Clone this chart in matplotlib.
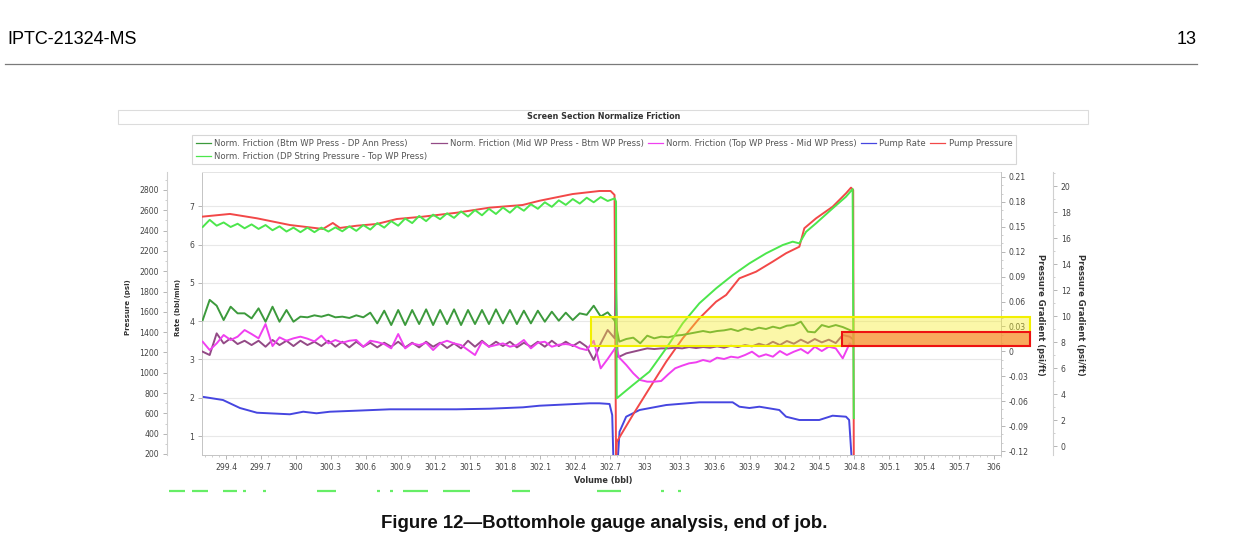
import numpy as np
import matplotlib
matplotlib.use("Agg")
import matplotlib.pyplot as plt
from matplotlib.ticker import FixedLocator, FixedFormatter, AutoMinorLocator
from matplotlib.patches import Rectangle
from matplotlib.lines import Line2D

W, H = 1242, 552


def fx(px):
    return px / W


def fy(py):
    return 1 - py / H


# ---- data ----
# regular volume samples before the first shut-down and between the two
vol_a = np.linspace(299.20, 302.74, 60)
vol_b = np.linspace(302.78, 304.76, 34)

# Norm. Friction (DP String Pressure - Top WP Press), psi/ft (outer right axis)
dp_top_a = [16.85, 17.4, 16.95, 17.2, 16.85, 17.1, 16.75, 17.05, 16.7, 17.0,
            16.6, 16.9, 16.5, 16.8, 16.45, 16.8, 16.45, 16.8, 16.5, 16.82,
            16.52, 16.9, 16.55, 17.0, 16.65, 17.15, 16.8, 17.3, 16.95, 17.5,
            17.15, 17.7, 17.3, 17.8, 17.45, 17.9, 17.55, 18.05, 17.65, 18.15,
            17.75, 18.25, 17.85, 18.35, 17.95, 18.45, 18.1, 18.6, 18.25, 18.75,
            18.4, 18.9, 18.55, 19.0, 18.65, 19.1, 18.75, 19.15, 18.85, 19.05]
dp_top_tail_x = [302.752, 302.758, 302.896, 303.039, 303.183, 303.325, 303.468,
                 303.612, 303.755, 303.898, 304.041, 304.184, 304.270, 304.327,
                 304.385, 304.470, 304.613, 304.728, 304.785, 304.795]
dp_top_tail_y = [18.8, 3.67, 4.69, 5.72, 7.52, 9.44, 10.98, 12.13, 13.15, 14.05,
                 14.82, 15.46, 15.72, 15.59, 16.48, 17.13, 18.28, 19.18, 19.77, 2.15]

# Norm. Friction (Btm WP Press - DP Ann Press), psi/ft
btm_ann_a = [0.0377, 0.062, 0.055, 0.0377, 0.0538, 0.0458, 0.0458, 0.0397, 0.0518, 0.0357,
             0.0538, 0.0357, 0.0498, 0.0357, 0.0418, 0.0410, 0.0434, 0.0418, 0.0442, 0.0410,
             0.0418, 0.0402, 0.0434, 0.0410, 0.0466, 0.0337, 0.0490, 0.0317, 0.0498, 0.0317,
             0.0498, 0.0329, 0.0506, 0.0317, 0.0498, 0.0329, 0.0506, 0.0317, 0.0498, 0.0329,
             0.0498, 0.0329, 0.0506, 0.0337, 0.0498, 0.0329, 0.0490, 0.0337, 0.0490, 0.0357,
             0.0478, 0.0369, 0.0466, 0.0377, 0.0458, 0.044, 0.055, 0.042, 0.047, 0.037]
btm_ann_b = [0.0117, 0.0149, 0.0165, 0.0097, 0.0189, 0.0157, 0.0177, 0.0169, 0.0189, 0.0197,
             0.0213, 0.0229, 0.0245, 0.0229, 0.0245, 0.0253, 0.0269, 0.0245, 0.0277, 0.0257,
             0.0285, 0.0269, 0.0297, 0.0277, 0.0309, 0.0317, 0.0358, 0.0237, 0.0229, 0.0317,
             0.0293, 0.0317, 0.0293, 0.0257]
btm_ann_mid_x, btm_ann_mid_y = [302.752], [0.031]
btm_ann_end_x, btm_ann_end_y = [304.785], [0.024]

# Norm. Friction (Mid WP Press - Btm WP Press), psi/ft
mid_btm_a = [-0.0004, -0.0044, 0.0217, 0.0096, 0.0157, 0.0088, 0.0128, 0.0076, 0.0128, 0.0056,
             0.0137, 0.0076, 0.0128, 0.0064, 0.0128, 0.0076, 0.0116, 0.0064, 0.0128, 0.0056,
             0.0116, 0.0048, 0.0116, 0.0056, 0.0104, 0.0048, 0.0104, 0.0056, 0.0116, 0.0048,
             0.0104, 0.0048, 0.0116, 0.0056, 0.0104, 0.0040, 0.0096, 0.0036, 0.0128, 0.0056,
             0.0128, 0.0056, 0.0116, 0.0064, 0.0116, 0.0048, 0.0104, 0.0056, 0.0116, 0.0056,
             0.0128, 0.0064, 0.0116, 0.0064, 0.0116, 0.0056, -0.0104, 0.0096, 0.0257, 0.0157]
mid_btm_b = [-0.0064, -0.0024, -0.0004, 0.0016, 0.0036, 0.0028, 0.0036, 0.0036, 0.0044, 0.0036,
             0.0052, 0.0040, 0.0052, 0.0044, 0.0060, 0.0044, 0.0068, 0.0052, 0.0076, 0.0060,
             0.0092, 0.0068, 0.0116, 0.0076, 0.0125, 0.0092, 0.0141, 0.0100, 0.0149, 0.0108,
             0.0141, 0.0100, 0.0197, 0.0177]
mid_btm_mid_x, mid_btm_mid_y = [302.752, 302.765], [0.0739, -0.0064]
mid_btm_end_x, mid_btm_end_y = [304.785], [0.015]

# Norm. Friction (Top WP Press - Mid WP Press), psi/ft
top_mid_a = [0.0116, 0.0016, 0.0096, 0.0197, 0.0137, 0.0177, 0.0257, 0.0209, 0.0157, 0.0329,
             0.0064, 0.0169, 0.0128, 0.0157, 0.0177, 0.0153, 0.0120, 0.0189, 0.0096, 0.0137,
             0.0104, 0.0128, 0.0137, 0.0056, 0.0128, 0.0112, 0.0088, 0.0036, 0.0209, 0.0036,
             0.0096, 0.0076, 0.0104, 0.0016, 0.0096, 0.0128, 0.0096, 0.0076, 0.0016, -0.0044,
             0.0116, 0.0056, 0.0076, 0.0096, 0.0056, 0.0076, 0.0137, 0.0036, 0.0104, 0.0116,
             0.0056, 0.0080, 0.0088, 0.0076, 0.0036, 0.0016, 0.0128, -0.0205, -0.0092, 0.0029]
top_mid_b = [-0.0076, -0.0164, -0.0264, -0.0345, -0.0365, -0.0365, -0.0357, -0.0277, -0.0204, -0.0172,
             -0.0144, -0.0132, -0.0104, -0.0124, -0.0076, -0.0092, -0.0064, -0.0076, -0.0044, -0.0004,
             -0.0064, -0.0036, -0.0064, 0.0004, -0.0044, -0.0004, 0.0028, -0.0024, 0.0056, 0.0004,
             0.0056, 0.0036, -0.0084, 0.0096]
top_mid_mid_x, top_mid_mid_y = [302.755], [0.0037]
top_mid_end_x, top_mid_end_y = [304.785], [0.006]

# Pump Rate, bbl/min
rate_x = [299.194, 299.374, 299.520, 299.666, 299.949, 300.064, 300.178, 300.293, 300.522,
          300.808, 301.094, 301.380, 301.666, 301.952, 302.095, 302.524, 302.610, 302.696,
          302.719, 302.730, 302.765, 302.782, 302.839, 302.954, 303.183, 303.468, 303.754,
          303.812, 303.898, 303.984, 304.155, 304.213, 304.327, 304.498, 304.613, 304.728,
          304.755, 304.779]
rate_y = [2.026, 1.94, 1.731, 1.608, 1.567, 1.634, 1.593, 1.634, 1.661,
          1.697, 1.697, 1.697, 1.713, 1.749, 1.791, 1.854, 1.854, 1.836,
          1.548, 0.3, 0.3, 1.112, 1.504, 1.679, 1.809, 1.880, 1.880,
          1.765, 1.731, 1.765, 1.679, 1.504, 1.418, 1.418, 1.530, 1.504,
          1.418, 0.3]

# Pump Pressure, psi
press_x = [299.194, 299.434, 299.666, 299.949, 300.233, 300.318, 300.379, 300.524, 300.696,
           300.868, 301.091, 301.383, 301.666, 301.949, 302.095, 302.379, 302.610, 302.705,
           302.739, 302.752, 302.759, 302.896, 303.039, 303.183, 303.325, 303.468, 303.612,
           303.698, 303.812, 303.955, 304.098, 304.213, 304.327, 304.370, 304.471, 304.613,
           304.728, 304.771, 304.790, 304.795]
press_y = [2537, 2564, 2521, 2455, 2416, 2475, 2426, 2448, 2465,
           2514, 2537, 2576, 2626, 2652, 2694, 2760, 2790, 2790,
           2751, 150, 321, 584, 847, 1109, 1339, 1536, 1700,
           1766, 1930, 1995, 2094, 2177, 2241, 2423, 2521, 2635,
           2767, 2823, 2800, 150]

labels = ["Norm. Friction (Btm WP Press - DP Ann Press)",
          "Norm. Friction (DP String Pressure - Top WP Press)",
          "Norm. Friction (Mid WP Press - Btm WP Press)",
          "Norm. Friction (Top WP Press - Mid WP Press)",
          "Pump Rate", "Pump Pressure"]

x_ticks = [299.4, 299.7, 300.0, 300.3, 300.6, 300.9, 301.2, 301.5, 301.8, 302.1, 302.4, 302.7,
           303.0, 303.3, 303.6, 303.9, 304.2, 304.5, 304.8, 305.1, 305.4, 305.7, 306.0]
x_labels = ["299.4", "299.7", "300", "300.3", "300.6", "300.9", "301.2", "301.5", "301.8",
            "302.1", "302.4", "302.7", "303", "303.3", "303.6", "303.9", "304.2", "304.5",
            "304.8", "305.1", "305.4", "305.7", "306"]
press_ticks = [200, 400, 600, 800, 1000, 1200, 1400, 1600, 1800, 2000, 2200, 2400, 2600, 2800]
rate_ticks = [1, 2, 3, 4, 5, 6, 7]
grad_ticks = [-0.12, -0.09, -0.06, -0.03, 0, 0.03, 0.06, 0.09, 0.12, 0.15, 0.18, 0.21]
grad_labels = ["-0.12", "-0.09", "-0.06", "-0.03", "0", "0.03", "0.06", "0.09", "0.12",
               "0.15", "0.18", "0.21"]
grad2_ticks = [0, 2, 4, 6, 8, 10, 12, 14, 16, 18, 20]

# highlighted bands (volume, gradient psi/ft)
yellow_band = (302.54, 306.31, 0.0065, 0.0414)
red_band = (304.696, 306.31, 0.0065, 0.0233)

# faint green remnants of a clipped text line under the chart (pixel spans)
remnant_spans = [(169, 185), (192, 208), (223, 237), (243, 246), (263, 266), (317, 336),
                 (377, 380), (390, 393), (403, 428), (443, 470), (512, 530), (597, 621),
                 (661, 664), (678, 681)]

# ---- figure ----
fig = plt.figure(figsize=(12.42, 5.52), dpi=100)
ax = fig.add_axes([fx(202), fy(455), (1001 - 202) / W, (455 - 172) / H])
ax_p = ax.twinx()
ax_g1 = ax.twinx()
ax_g2 = ax.twinx()

c_dg, c_lg, c_pu = "#3c9a3c", "#4ce64c", "#934a86"
c_mg, c_bl, c_rd = "#f040f0", "#4646e0", "#f24848"
line_kw = dict(lw=1.4, solid_joinstyle="round")

l_bl, = ax.plot(rate_x, rate_y, color=c_bl, **line_kw)
l_rd, = ax_p.plot(press_x, press_y, color=c_rd, **line_kw)
l_pu, = ax_g1.plot(np.r_[vol_a, mid_btm_mid_x, vol_b, mid_btm_end_x],
                   np.r_[mid_btm_a, mid_btm_mid_y, mid_btm_b, mid_btm_end_y], color=c_pu, **line_kw)
l_mg, = ax_g1.plot(np.r_[vol_a, top_mid_mid_x, vol_b, top_mid_end_x],
                   np.r_[top_mid_a, top_mid_mid_y, top_mid_b, top_mid_end_y], color=c_mg, **line_kw)
l_dg, = ax_g1.plot(np.r_[vol_a, btm_ann_mid_x, vol_b, btm_ann_end_x],
                   np.r_[btm_ann_a, btm_ann_mid_y, btm_ann_b, btm_ann_end_y], color=c_dg, **line_kw)
l_lg, = ax_g2.plot(np.r_[vol_a, dp_top_tail_x], np.r_[dp_top_a, dp_top_tail_y], color=c_lg, **line_kw)

ax.set_xlim(299.194, 306.06)
ax.set_ylim(0.504, 7.893)
ax_p.set_ylim(190, 2977)
ax_g1.set_ylim(-0.1248, 0.216)
ax_g2.set_ylim(-0.69, 21.08)

spine_c = "#c4c4c4"
tick_kw = dict(length=2.6, width=0.6, color="#aaaaaa", labelsize=5.6, labelcolor="#444444", pad=3)

ax.xaxis.set_major_locator(FixedLocator(x_ticks))
ax.xaxis.set_major_formatter(FixedFormatter(x_labels))
ax.xaxis.set_minor_locator(AutoMinorLocator(5))
ax.yaxis.set_major_locator(FixedLocator(rate_ticks))
ax.grid(axis="y", color="#e8e8e8", lw=0.8)
ax.tick_params(which="major", **tick_kw)
ax.tick_params(which="minor", length=1.5, width=0.5, color="#bbbbbb")
for s in ["left", "bottom", "top"]:
    ax.spines[s].set_color(spine_c)
    ax.spines[s].set_linewidth(0.7)
ax.spines["top"].set_color("#e4e4e4")
ax.spines["right"].set_visible(False)

ax_p.yaxis.set_ticks_position("left")
ax_p.yaxis.set_label_position("left")
ax_p.spines["left"].set_position(("outward", 25.2))
ax_p.spines["left"].set_visible(True)
for s in ["right", "top", "bottom"]:
    ax_p.spines[s].set_visible(False)
ax_p.spines["left"].set_color("#d0d0d0")
ax_p.yaxis.set_major_locator(FixedLocator(press_ticks))
ax_p.yaxis.set_minor_locator(AutoMinorLocator(2))
ax_p.tick_params(which="major", **tick_kw)
ax_p.tick_params(which="minor", length=1.5, width=0.5, color="#bbbbbb")

for s in ["left", "top", "bottom"]:
    ax_g1.spines[s].set_visible(False)
ax_g1.spines["right"].set_color(spine_c)
ax_g1.spines["right"].set_linewidth(0.7)
ax_g1.yaxis.set_major_locator(FixedLocator(grad_ticks))
ax_g1.yaxis.set_major_formatter(FixedFormatter(grad_labels))
ax_g1.yaxis.set_minor_locator(AutoMinorLocator(3))
ax_g1.tick_params(which="major", **tick_kw)
ax_g1.tick_params(which="minor", length=1.5, width=0.5, color="#bbbbbb")

for s in ["left", "top", "bottom"]:
    ax_g2.spines[s].set_visible(False)
ax_g2.spines["right"].set_position(("outward", 37.4))
ax_g2.spines["right"].set_color("#d0d0d0")
ax_g2.yaxis.set_major_locator(FixedLocator(grad2_ticks))
ax_g2.yaxis.set_minor_locator(AutoMinorLocator(2))
ax_g2.tick_params(which="major", **tick_kw)
ax_g2.tick_params(which="minor", length=1.5, width=0.5, color="#bbbbbb")

# highlighted bands drawn over the curves
x0, x1, y0, y1 = yellow_band
ax_g2.add_patch(Rectangle((x0, y0), x1 - x0, y1 - y0, transform=ax_g1.transData,
                          facecolor=(0.96, 0.93, 0.15, 0.4), edgecolor="#f2f000",
                          lw=1.5, clip_on=False, zorder=5))
x0, x1, y0, y1 = red_band
ax_g2.add_patch(Rectangle((x0, y0), x1 - x0, y1 - y0, transform=ax_g1.transData,
                          facecolor=(0.97, 0.55, 0.25, 0.72), edgecolor="#ee1111",
                          lw=1.5, clip_on=False, zorder=6))

# axis titles
lab_kw = dict(ha="center", va="center", fontweight="bold", color="#333333")
fig.text(fx(128), fy(307), "Pressure (psi)", rotation=90, fontsize=5.0, **lab_kw)
fig.text(fx(178), fy(307), "Rate (bbl/min)", rotation=90, fontsize=5.0, **lab_kw)
fig.text(fx(1040), fy(315), "Pressure Gradient (psi/ft)", rotation=270, fontsize=6.0, **lab_kw)
fig.text(fx(1081), fy(315), "Pressure Gradient (psi/ft)", rotation=270, fontsize=6.0, **lab_kw)
fig.text(fx(603), fy(480), "Volume (bbl)", fontsize=5.9, **lab_kw)

# chart title bar
fig.add_artist(Rectangle((fx(118), fy(124)), (1088 - 118) / W, 14 / H, transform=fig.transFigure,
                         facecolor="white", edgecolor="#dcdcdc", lw=0.8))
fig.text(fx(604), fy(117), "Screen Section Normalize Friction", ha="center", va="center",
         fontsize=5.8, fontweight="bold", color="#333333")

# legend
leg = fig.legend([l_dg, l_lg, l_pu, l_mg, l_bl, l_rd], labels, ncol=5, loc="upper left",
                 bbox_to_anchor=(fx(192), fy(163), (1016 - 192) / W, 28 / H), mode="expand",
                 borderaxespad=0, fontsize=6.1, handlelength=1.8, handletextpad=0.4,
                 columnspacing=0.6, labelspacing=0.45, borderpad=0.45, fancybox=False,
                 frameon=True, labelcolor="#555555")
leg.get_frame().set_edgecolor("#cccccc")
leg.get_frame().set_linewidth(0.8)
for h in leg.get_lines():
    h.set_linewidth(0.9)

# green remnants
for a, b in remnant_spans:
    fig.add_artist(Line2D([fx(a), fx(b)], [fy(491), fy(491)], transform=fig.transFigure,
                          color="#66ee66", lw=1.6, solid_capstyle="butt"))

# page header, rule and caption
fig.text(fx(7), fy(40), "IPTC-21324-MS", fontsize=13, family="Liberation Sans",
         ha="left", va="center", color="black")
fig.text(fx(1197), fy(40), "13", fontsize=13, family="Liberation Sans",
         ha="right", va="center", color="black")
fig.add_artist(Line2D([fx(5), fx(1197)], [fy(63.5), fy(63.5)], transform=fig.transFigure,
                      color="#7a7a7a", lw=0.9))
fig.text(fx(604), fy(523), "Figure 12\u2014Bottomhole gauge analysis, end of job.",
         fontsize=13.4, family="Liberation Sans", fontweight="bold", ha="center", va="center",
         color="#111111")

fig.savefig("out.png", dpi=100, facecolor="white")
